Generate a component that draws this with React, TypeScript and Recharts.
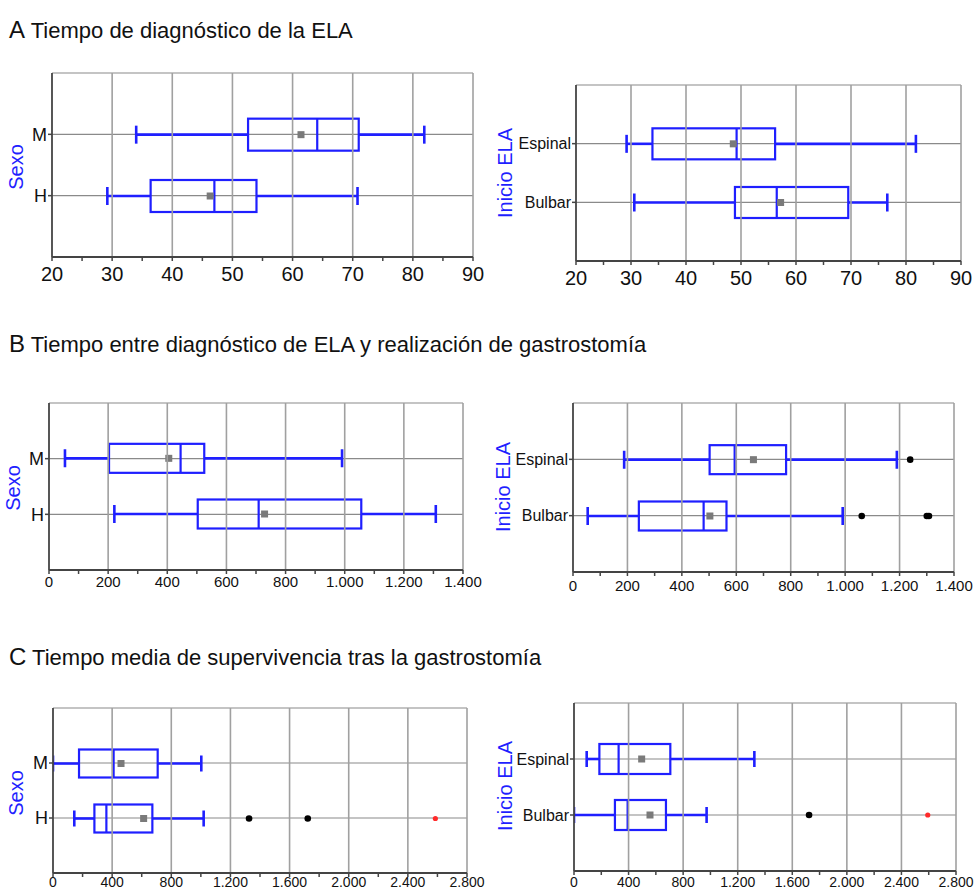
import React from 'react';
import { ComposedChart, Bar, XAxis, YAxis, CartesianGrid, ReferenceLine } from 'recharts';

const FONT = '"Liberation Sans", Arial, Helvetica, sans-serif';
const BLUE = '#1f1fff';

// ---------- categories ----------
const sexCategories = ['M', 'H'];
const onsetCategories = ['Espinal', 'Bulbar'];

// ---------- Panel A: Tiempo de diagnóstico de la ELA ----------
const aTicks = [20, 30, 40, 50, 60, 70, 80, 90];
const aTickLabels = ['20', '30', '40', '50', '60', '70', '80', '90'];
const aMinorTicks = [25, 35, 45, 55, 65, 75, 85];

const aSexLow = [34, 29.2];
const aSexQ1 = [52.6, 36.4];
const aSexMedian = [64.1, 47];
const aSexQ3 = [71, 54];
const aSexHigh = [81.9, 70.8];
const aSexMean = [61.4, 46.3];

const aOnsetLow = [29.2, 30.6];
const aOnsetQ1 = [33.9, 48.9];
const aOnsetMedian = [49.2, 56.5];
const aOnsetQ3 = [56.2, 69.5];
const aOnsetHigh = [81.8, 76.6];
const aOnsetMean = [48.6, 57.2];

// ---------- Panel B: Tiempo entre diagnóstico y gastrostomía ----------
const bTicks = [0, 200, 400, 600, 800, 1000, 1200, 1400];
const bTickLabels = ['0', '200', '400', '600', '800', '1.000', '1.200', '1.400'];
const bMinorTicks = [100, 300, 500, 700, 900, 1100, 1300];

const bSexLow = [54, 221];
const bSexQ1 = [203, 503];
const bSexMedian = [445, 709];
const bSexQ3 = [525, 1056];
const bSexHigh = [991, 1308];
const bSexMean = [405, 729];

const bOnsetLow = [188, 54];
const bOnsetQ1 = [502, 242];
const bOnsetMedian = [594, 480];
const bOnsetQ3 = [783, 564];
const bOnsetHigh = [1190, 991];
const bOnsetMean = [663, 503];
const bOnsetOutliers = [[1239], [1061, 1300, 1308]];

// ---------- Panel C: Tiempo media de supervivencia ----------
const cTicks = [0, 400, 800, 1200, 1600, 2000, 2400, 2800];
const cTickLabels = ['0', '400', '800', '1.200', '1.600', '2.000', '2.400', '2.800'];
const cMinorTicks = [200, 600, 1000, 1400, 1800, 2200, 2600];

const cSexLow = [0, 144];
const cSexQ1 = [176, 280];
const cSexMedian = [410, 361];
const cSexQ3 = [708, 672];
const cSexHigh = [1003, 1019];
const cSexMean = [460, 613];
const cSexOutliers = [[], [1326, 1723]];
const cSexExtremes = [[], [2586]];

const cOnsetLow = [93, 0];
const cOnsetQ1 = [186, 300];
const cOnsetMedian = [327, 393];
const cOnsetQ3 = [706, 674];
const cOnsetHigh = [1322, 972];
const cOnsetMean = [496, 557];
const cOnsetOutliers = [[], [1723]];
const cOnsetExtremes = [[], [2593]];

type Row = {
  group: string;
  low: number;
  q1: number;
  median: number;
  q3: number;
  high: number;
  mean: number;
  outliers: number[];
  extremes: number[];
  range: [number, number];
};

function buildRows(
  cats: string[],
  low: number[],
  q1: number[],
  median: number[],
  q3: number[],
  high: number[],
  mean: number[],
  outliers?: number[][],
  extremes?: number[][]
): Row[] {
  return cats.map((c, i) => ({
    group: c,
    low: low[i],
    q1: q1[i],
    median: median[i],
    q3: q3[i],
    high: high[i],
    mean: mean[i],
    outliers: outliers ? outliers[i] : [],
    extremes: extremes ? extremes[i] : [],
    range: [low[i], high[i]],
  }));
}

function BoxShape(props: any) {
  const { x, y, width, height, payload, capSize } = props;
  if (!payload || width == null || height == null) return <g />;
  const lo = payload.low;
  const hi = payload.high;
  const k = width / (hi - lo);
  const sx = (v: number) => x + (v - lo) * k;
  const cy = y + height / 2;
  const half = capSize / 2;
  return (
    <g>
      <line x1={sx(lo)} x2={sx(payload.q1)} y1={cy} y2={cy} stroke={BLUE} strokeWidth={2.6} />
      <line x1={sx(payload.q3)} x2={sx(hi)} y1={cy} y2={cy} stroke={BLUE} strokeWidth={2.6} />
      <line x1={sx(lo)} x2={sx(lo)} y1={cy - half} y2={cy + half} stroke={BLUE} strokeWidth={2.6} />
      <line x1={sx(hi)} x2={sx(hi)} y1={cy - half} y2={cy + half} stroke={BLUE} strokeWidth={2.6} />
      <rect
        x={sx(payload.q1)}
        y={y}
        width={sx(payload.q3) - sx(payload.q1)}
        height={height}
        fill="none"
        stroke={BLUE}
        strokeWidth={2.2}
      />
      <line
        x1={sx(payload.median)}
        x2={sx(payload.median)}
        y1={y}
        y2={y + height}
        stroke={BLUE}
        strokeWidth={2.2}
      />
      <rect x={sx(payload.mean) - 3.5} y={cy - 3.5} width={7} height={7} fill="#7a7a7a" />
      {payload.outliers.map((v: number, i: number) => (
        <circle key={'o' + i} cx={sx(v)} cy={cy} r={3.3} fill="#000" />
      ))}
      {payload.extremes.map((v: number, i: number) => (
        <circle key={'e' + i} cx={sx(v)} cy={cy} r={2.6} fill="#ff2a2a" />
      ))}
    </g>
  );
}

type PanelProps = {
  left: number;
  top: number;
  width: number;
  height: number;
  marginTop: number;
  marginRight: number;
  yAxisWidth: number;
  xAxisHeight: number;
  rows: Row[];
  ticks: number[];
  tickLabels: string[];
  minorTicks: number[];
  tickFontSize: number;
  tickDy: number;
  catFontSize: number;
  boxSize: number;
  capSize: number;
  yLabel: string;
  yLabelX: number;
  yLabelY: number;
};

function Panel(p: PanelProps) {
  const plotH = p.height - p.marginTop - p.xAxisHeight;
  const pad = plotH / 6;
  const allTicks = [...p.ticks, ...p.minorTicks].sort((a, b) => a - b);
  const labelMap = new Map<number, string>(p.ticks.map((t, i) => [t, p.tickLabels[i]]));
  const XTick = (tp: any) => {
    const v = tp.payload ? tp.payload.value : undefined;
    const lab = labelMap.get(v);
    if (lab === undefined) return <g />;
    return (
      <text
        x={tp.x}
        y={tp.y}
        dy={p.tickDy}
        textAnchor="middle"
        fontSize={p.tickFontSize}
        fontFamily={FONT}
        fill="#111"
      >
        {lab}
      </text>
    );
  };
  const shape = (sp: any) => <BoxShape {...sp} capSize={p.capSize} />;
  return (
    <div style={{ position: 'absolute', left: p.left, top: p.top, width: p.width, height: p.height }}>
      <ComposedChart
        layout="vertical"
        width={p.width}
        height={p.height}
        data={p.rows}
        margin={{ top: p.marginTop, right: p.marginRight, bottom: 0, left: 0 }}
      >
        <CartesianGrid vertical={false} stroke="#8a8a8a" strokeWidth={1.2} />
        {p.ticks.slice(1).map((v) => (
          <ReferenceLine key={'x' + v} x={v} stroke="#a0a0a0" strokeWidth={1.6} />
        ))}
        <XAxis
          type="number"
          domain={[p.ticks[0], p.ticks[p.ticks.length - 1]]}
          ticks={allTicks}
          interval={0}
          tick={XTick}
          tickSize={4}
          tickLine={{ stroke: '#444', strokeWidth: 1.5 }}
          axisLine={{ stroke: '#444', strokeWidth: 1.8 }}
          height={p.xAxisHeight}
          allowDataOverflow
        />
        <YAxis
          type="category"
          dataKey="group"
          width={p.yAxisWidth}
          padding={{ top: pad, bottom: pad }}
          tickSize={4}
          tickMargin={1}
          tick={{ fontSize: p.catFontSize, fill: '#111', fontFamily: FONT }}
          tickLine={{ stroke: '#444', strokeWidth: 1.5 }}
          axisLine={{ stroke: '#444', strokeWidth: 1.8 }}
        />
        <Bar dataKey="range" barSize={p.boxSize} shape={shape} isAnimationActive={false} />
      </ComposedChart>
      <div
        style={{
          position: 'absolute',
          left: p.yLabelX,
          top: p.yLabelY,
          transform: 'translate(-50%, -50%) rotate(-90deg)',
          color: BLUE,
          fontSize: 20,
          fontFamily: FONT,
          whiteSpace: 'nowrap',
          lineHeight: 1,
        }}
      >
        {p.yLabel}
      </div>
    </div>
  );
}

function Title({ letter, text, top }: { letter: string; text: string; top: number }) {
  return (
    <div
      style={{
        position: 'absolute',
        left: 9,
        top,
        fontFamily: FONT,
        fontSize: 22,
        color: '#111',
        whiteSpace: 'nowrap',
        lineHeight: 1,
      }}
    >
      <span style={{ fontSize: 24 }}>{letter}</span> {text}
    </div>
  );
}

export default function App() {
  const aSex = buildRows(sexCategories, aSexLow, aSexQ1, aSexMedian, aSexQ3, aSexHigh, aSexMean);
  const aOnset = buildRows(onsetCategories, aOnsetLow, aOnsetQ1, aOnsetMedian, aOnsetQ3, aOnsetHigh, aOnsetMean);
  const bSex = buildRows(sexCategories, bSexLow, bSexQ1, bSexMedian, bSexQ3, bSexHigh, bSexMean);
  const bOnset = buildRows(
    onsetCategories, bOnsetLow, bOnsetQ1, bOnsetMedian, bOnsetQ3, bOnsetHigh, bOnsetMean, bOnsetOutliers
  );
  const cSex = buildRows(
    sexCategories, cSexLow, cSexQ1, cSexMedian, cSexQ3, cSexHigh, cSexMean, cSexOutliers, cSexExtremes
  );
  const cOnset = buildRows(
    onsetCategories, cOnsetLow, cOnsetQ1, cOnsetMedian, cOnsetQ3, cOnsetHigh, cOnsetMean, cOnsetOutliers, cOnsetExtremes
  );

  return (
    <div style={{ position: 'absolute', left: 0, top: 0, width: 980, height: 892, background: '#fff', overflow: 'hidden' }}>
      <Title letter="A" text="Tiempo de diagnóstico de la ELA" top={18} />
      <Title letter="B" text="Tiempo entre diagnóstico de ELA y realización de gastrostomía" top={332} />
      <Title letter="C" text="Tiempo media de supervivencia tras la gastrostomía" top={645} />

      <Panel
        left={0} top={60} width={490} height={240}
        marginTop={13} marginRight={17} yAxisWidth={52} xAxisHeight={43}
        rows={aSex} ticks={aTicks} tickLabels={aTickLabels} minorTicks={aMinorTicks}
        tickFontSize={20} tickDy={18} catFontSize={18} boxSize={32} capSize={18}
        yLabel="Sexo" yLabelX={16} yLabelY={107}
      />
      <Panel
        left={490} top={60} width={490} height={240}
        marginTop={25} marginRight={19} yAxisWidth={86} xAxisHeight={39}
        rows={aOnset} ticks={aTicks} tickLabels={aTickLabels} minorTicks={aMinorTicks}
        tickFontSize={20} tickDy={18} catFontSize={16} boxSize={31} capSize={18}
        yLabel="Inicio ELA" yLabelX={15} yLabelY={113}
      />
      <Panel
        left={0} top={370} width={490} height={240}
        marginTop={33} marginRight={27} yAxisWidth={49} xAxisHeight={40}
        rows={bSex} ticks={bTicks} tickLabels={bTickLabels} minorTicks={bMinorTicks}
        tickFontSize={15} tickDy={11} catFontSize={18} boxSize={29} capSize={18}
        yLabel="Sexo" yLabelX={13} yLabelY={118}
      />
      <Panel
        left={490} top={370} width={490} height={240}
        marginTop={33} marginRight={26} yAxisWidth={83} xAxisHeight={38}
        rows={bOnset} ticks={bTicks} tickLabels={bTickLabels} minorTicks={bMinorTicks}
        tickFontSize={15} tickDy={13} catFontSize={16} boxSize={29} capSize={18}
        yLabel="Inicio ELA" yLabelX={13} yLabelY={117}
      />
      <Panel
        left={0} top={680} width={490} height={212}
        marginTop={28} marginRight={23} yAxisWidth={53} xAxisHeight={19}
        rows={cSex} ticks={cTicks} tickLabels={cTickLabels} minorTicks={cMinorTicks}
        tickFontSize={14} tickDy={8} catFontSize={18} boxSize={28} capSize={16}
        yLabel="Sexo" yLabelX={16} yLabelY={113}
      />
      <Panel
        left={490} top={680} width={490} height={212}
        marginTop={23} marginRight={24} yAxisWidth={84} xAxisHeight={21}
        rows={cOnset} ticks={cTicks} tickLabels={cTickLabels} minorTicks={cMinorTicks}
        tickFontSize={14} tickDy={10} catFontSize={16} boxSize={30} capSize={16}
        yLabel="Inicio ELA" yLabelX={15} yLabelY={106}
      />
    </div>
  );
}
